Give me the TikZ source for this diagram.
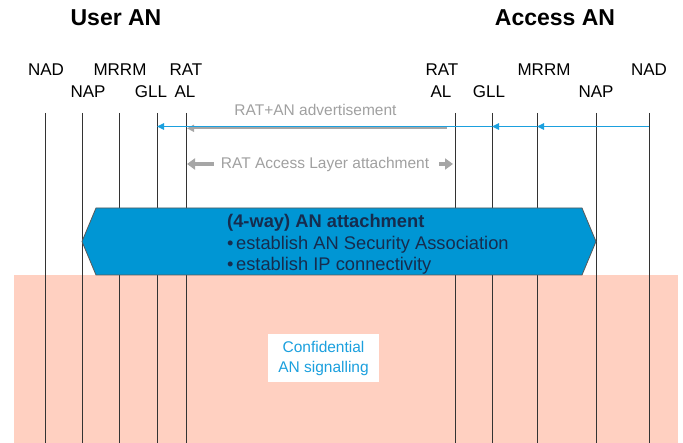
\documentclass[tikz,border=0pt]{standalone}
\usepackage{fontspec}
\setmainfont{Liberation Sans}
\usetikzlibrary{arrows.meta}
\definecolor{msgblue}{RGB}{27,160,222}
\definecolor{anfill}{RGB}{0,150,212}
\definecolor{antext}{RGB}{22,44,78}
\definecolor{pinkzone}{RGB}{255,208,193}
\definecolor{greymsg}{RGB}{166,166,166}
\definecolor{greytxt}{RGB}{160,160,160}

\begin{document}
\begin{tikzpicture}[x=1pt,y=-1pt,
  lifeline/.style={draw=black!80,line width=0.9pt},
  header/.style={font=\fontsize{23}{27}\selectfont\bfseries,inner sep=0pt},
  entity/.style={font=\fontsize{17}{20}\selectfont,inner sep=0pt,anchor=base},
  advmsg/.style={draw=msgblue,line width=1.4pt,-{Triangle[length=7pt,width=6.5pt]}},
  greymsgline/.style={draw=greymsg,line width=2pt,-{Triangle[length=7pt,width=7pt]}},
  greylabel/.style={font=\fontsize{15.5}{18}\selectfont,text=greytxt,inner sep=0pt},
  attarrow/.style={draw=greymsg,line width=3.5pt,-{Triangle[length=8pt,width=11pt]}},
  hexbox/.style={fill=anfill,draw=black!65,line width=0.8pt},
  hextext/.style={font=\fontsize{18.3}{21}\selectfont,text=antext,inner sep=0pt,anchor=base west},
  confbox/.style={fill=white,text=msgblue,align=center,minimum width=111pt,minimum height=48pt,
    inner sep=0pt,font=\fontsize{15.5}{20}\selectfont}
]
\useasboundingbox (0,0) rectangle (683,443);

% confidential signalling zone
\fill[pinkzone] (14,275) rectangle (678,443);

% lifelines of both ANs
\foreach \n/\x in {uNAD/45,uNAP/82,uMRRM/119,uGLL/157,uAL/186,aAL/455,aGLL/492,aMRRM/537,aNAP/596,aNAD/649}{
  \coordinate (\n) at (\x,113);
  \coordinate (\n-end) at (\x,443);
  \draw[lifeline] (\n) -- (\n-end);
}

% titles
\node[header] (userAN) at (116,18) {User AN};
\node[header] (accessAN) at (555,18) {Access AN};

% entity labels, user side
\node[entity] (luNAD) at (46,76) {NAD};
\node[entity] (luMRRM) at (120,76) {MRRM};
\node[entity] (luRAT) at (186,76) {RAT};
\node[entity] (luNAP) at (88,98) {NAP};
\node[entity] (luGLL) at (151,98) {GLL};
\node[entity] (luAL) at (185,98) {AL};
% entity labels, access side
\node[entity] (laRAT) at (442,76) {RAT};
\node[entity] (laMRRM) at (544,76) {MRRM};
\node[entity] (laNAD) at (649,76) {NAD};
\node[entity] (laAL) at (441,98) {AL};
\node[entity] (laGLL) at (489,98) {GLL};
\node[entity] (laNAP) at (596,98) {NAP};

% RAT+AN advertisement
\coordinate (advy) at (0,126.5);
\coordinate (advg) at (0,128.3);
\node[greylabel] (advlabel) at (315.5,110) {RAT+AN advertisement};
\draw[greymsgline] ([xshift=-8pt]aAL |- advg) -- ([xshift=1pt]uAL |- advg);
\draw[advmsg] (aNAD |- advy) -- (aMRRM |- advy);
\draw[advmsg] (aMRRM |- advy) -- (aGLL |- advy);
\draw[advmsg] (aGLL |- advy) -- (uGLL |- advy);

% RAT access layer attachment
\coordinate (atty) at (0,164);
\node[greylabel] (attlabel) at (325,164) {RAT Access Layer attachment};
\draw[attarrow] ([xshift=-7pt]attlabel.west) -- ([xshift=1pt]uAL |- atty);
\draw[attarrow] ([xshift=10pt]attlabel.east) -- ([xshift=-2pt]aAL |- atty);

% (4-way) AN attachment
\coordinate (hexL) at (82,241.5);
\coordinate (hexR) at (596,241.5);
\draw[hexbox] (hexL) -- (96,208) -- (582,208) -- (hexR) -- (582,275) -- (96,275) -- cycle;
\node[hextext] (antitle) at (227,228) {\bfseries (4-way) AN attachment};
\node[hextext] (anbullet1) at (227,249.5) {\textbullet\hspace{2.5pt}establish AN Security Association};
\node[hextext] (anbullet2) at (227,270.5) {\textbullet\hspace{2.5pt}establish IP connectivity};

% confidential signalling label
\node[confbox] (conf) at (323.5,358) {Confidential\\AN signalling};
\end{tikzpicture}
\end{document}
